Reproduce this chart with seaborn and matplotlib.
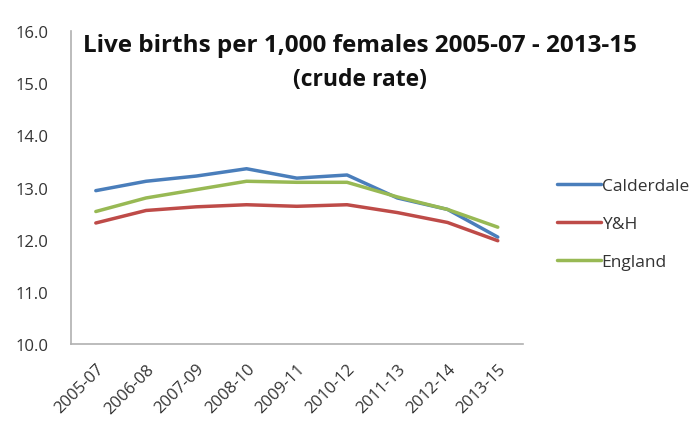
import numpy as np
import pandas as pd
import matplotlib
matplotlib.use("Agg")
import matplotlib.pyplot as plt
import seaborn as sns

periods = ["2005-07", "2006-08", "2007-09", "2008-10", "2009-11",
           "2010-12", "2011-13", "2012-14", "2013-15"]
calderdale = [12.94, 13.12, 13.22, 13.36, 13.18, 13.24, 12.80, 12.58, 12.05]
yh = [12.32, 12.56, 12.63, 12.67, 12.64, 12.67, 12.52, 12.33, 11.98]
england = [12.54, 12.80, 12.96, 13.12, 13.10, 13.10, 12.82, 12.58, 12.24]

series = ["Calderdale", "Y&H", "England"]
colors = ["#4a7ebb", "#be4b48", "#98b954"]

df = pd.DataFrame({
    "period": periods * 3,
    "rate": calderdale + yh + england,
    "area": [s for s in series for _ in periods],
})
df["x"] = list(range(len(periods))) * 3

sns.set_style("white")
plt.rcParams["font.family"] = ["Open Sans", "DejaVu Sans"]

fig = plt.figure(figsize=(7, 4.27), dpi=100)
ax = fig.add_axes([0.101, 0.192, 0.646, 0.733])

sns.lineplot(data=df, x="x", y="rate", hue="area", palette=colors,
             hue_order=series, linewidth=2.5, ax=ax, legend=False)

ax.set_xlim(-0.5, 8.5)
ax.set_ylim(10, 16)
ax.set_yticks(np.arange(10, 16.1, 1))
ax.set_yticklabels([f"{v:.1f}" for v in np.arange(10, 16.1, 1)],
                   fontsize=12, color="#333333")
ax.set_xticks(range(len(periods)))
ax.set_xticklabels(periods, rotation=45, ha="right", rotation_mode="anchor",
                   fontsize=12, color="#333333")
ax.tick_params(axis="y", length=0, pad=16)
ax.tick_params(axis="x", length=0, pad=12)
ax.set_xlabel("")
ax.set_ylabel("")

for side in ["top", "right"]:
    ax.spines[side].set_visible(False)
for side in ["left", "bottom"]:
    ax.spines[side].set_color("#b0b0b0")
    ax.spines[side].set_linewidth(1.2)

# two-line title, both lines centred at the same x
fig.text(360 / 700, 1 - 46 / 427, "Live births per 1,000 females 2005-07 - 2013-15",
         ha="center", va="center", fontsize=17.5, fontweight="bold", color="#111111")
fig.text(360 / 700, 1 - 80 / 427, "(crude rate)",
         ha="center", va="center", fontsize=16.5, fontweight="bold", color="#111111")

handles = [plt.Line2D([], [], color=c, linewidth=2.5) for c in colors]
fig.legend(handles, series, loc="upper left", bbox_to_anchor=(0.774, 0.617),
           frameon=False, handlelength=2.5, handletextpad=0.05,
           labelspacing=1.25, fontsize=12.5, labelcolor="#333333")

fig.savefig("out.png", dpi=100)
